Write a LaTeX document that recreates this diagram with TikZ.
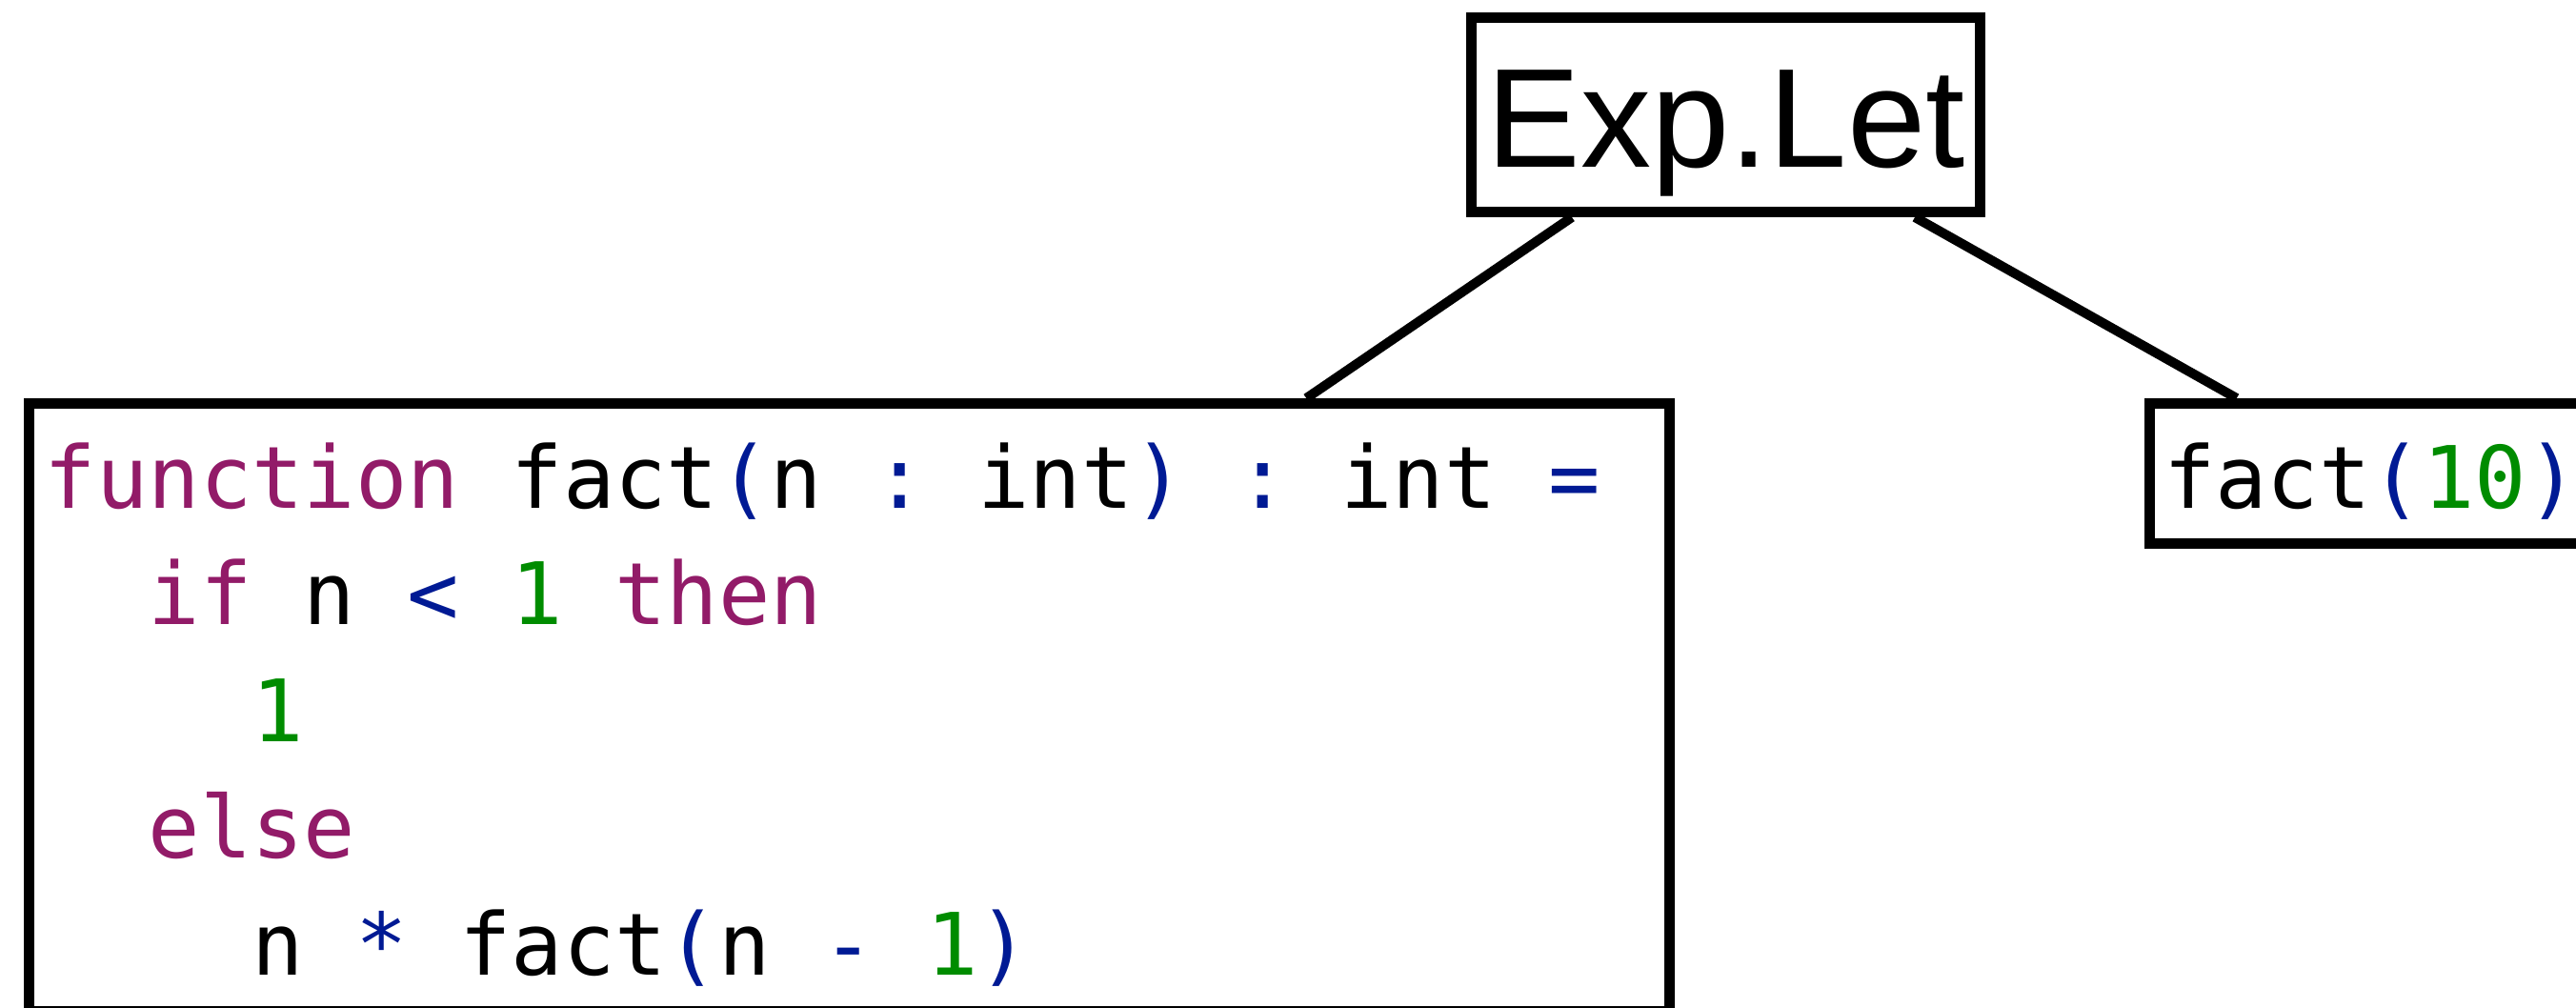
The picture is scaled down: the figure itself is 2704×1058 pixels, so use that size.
\documentclass[tikz,border=0pt]{standalone}
\usepackage{fontspec}
\setmainfont{Liberation Sans}
\newfontfamily\codefont{DejaVu Sans Mono}
\definecolor{kwcol}{RGB}{146,27,104}
\definecolor{opcol}{RGB}{0,26,148}
\definecolor{numcol}{RGB}{0,140,0}
\newcommand{\cKw}[1]{\textcolor{kwcol}{#1}}
\newcommand{\cOp}[1]{\textcolor{opcol}{#1}}
\newcommand{\cNum}[1]{\textcolor{numcol}{#1}}
\newcommand{\cInd}[1]{\hphantom{#1}}
\begin{document}
\begin{tikzpicture}[x=0.25pt,y=-0.25pt,
  box/.style={draw=black,line width=2.75pt,inner sep=0pt,rectangle},
  link/.style={draw=black,line width=2.5pt},
  codestyle/.style={font=\codefont\frenchspacing\fontsize{22.6pt}{30.625pt}\selectfont}]
\useasboundingbox[fill=white] (0,0) rectangle (2704,1058);
\node[box,minimum width=133.5pt,minimum height=51pt,font=\fontsize{37pt}{44pt}\selectfont,text height=35.5pt,text depth=7.75pt] (let) at (1811.5,120.5) {Exp.Let};
\node[box,minimum width=430.375pt,minimum height=159.5pt] (code) at (891.25,742.5) {};
\node[codestyle,anchor=base west,inner sep=0pt] (codetext) at (46,533) {\begin{tabular}[t]{@{}l@{}}
\cKw{function} fact\cOp{(}n \cOp{:} int\cOp{)} \cOp{:} int \cOp{=}\\
\cInd{xx}\cKw{if} n \cOp{<} \cNum{1} \cKw{then}\\
\cInd{xxxx}\cNum{1}\\
\cInd{xx}\cKw{else}\\
\cInd{xxxx}n \cOp{*} fact\cOp{(}n \cOp{-} \cNum{1}\cOp{)}
\end{tabular}};
\node[box,codestyle,minimum width=116.125pt,minimum height=36.75pt,text height=23pt,text depth=5pt] (call) at (2488.75,497) {fact\cOp{(}\cNum{10}\cOp{)}};
\draw[link] ([xshift=-40.375pt]let.south) -- ([xshift=120pt]code.north);
\draw[link] ([xshift=49.625pt]let.south) -- ([xshift=-35.25pt]call.north);
\end{tikzpicture}
\end{document}
